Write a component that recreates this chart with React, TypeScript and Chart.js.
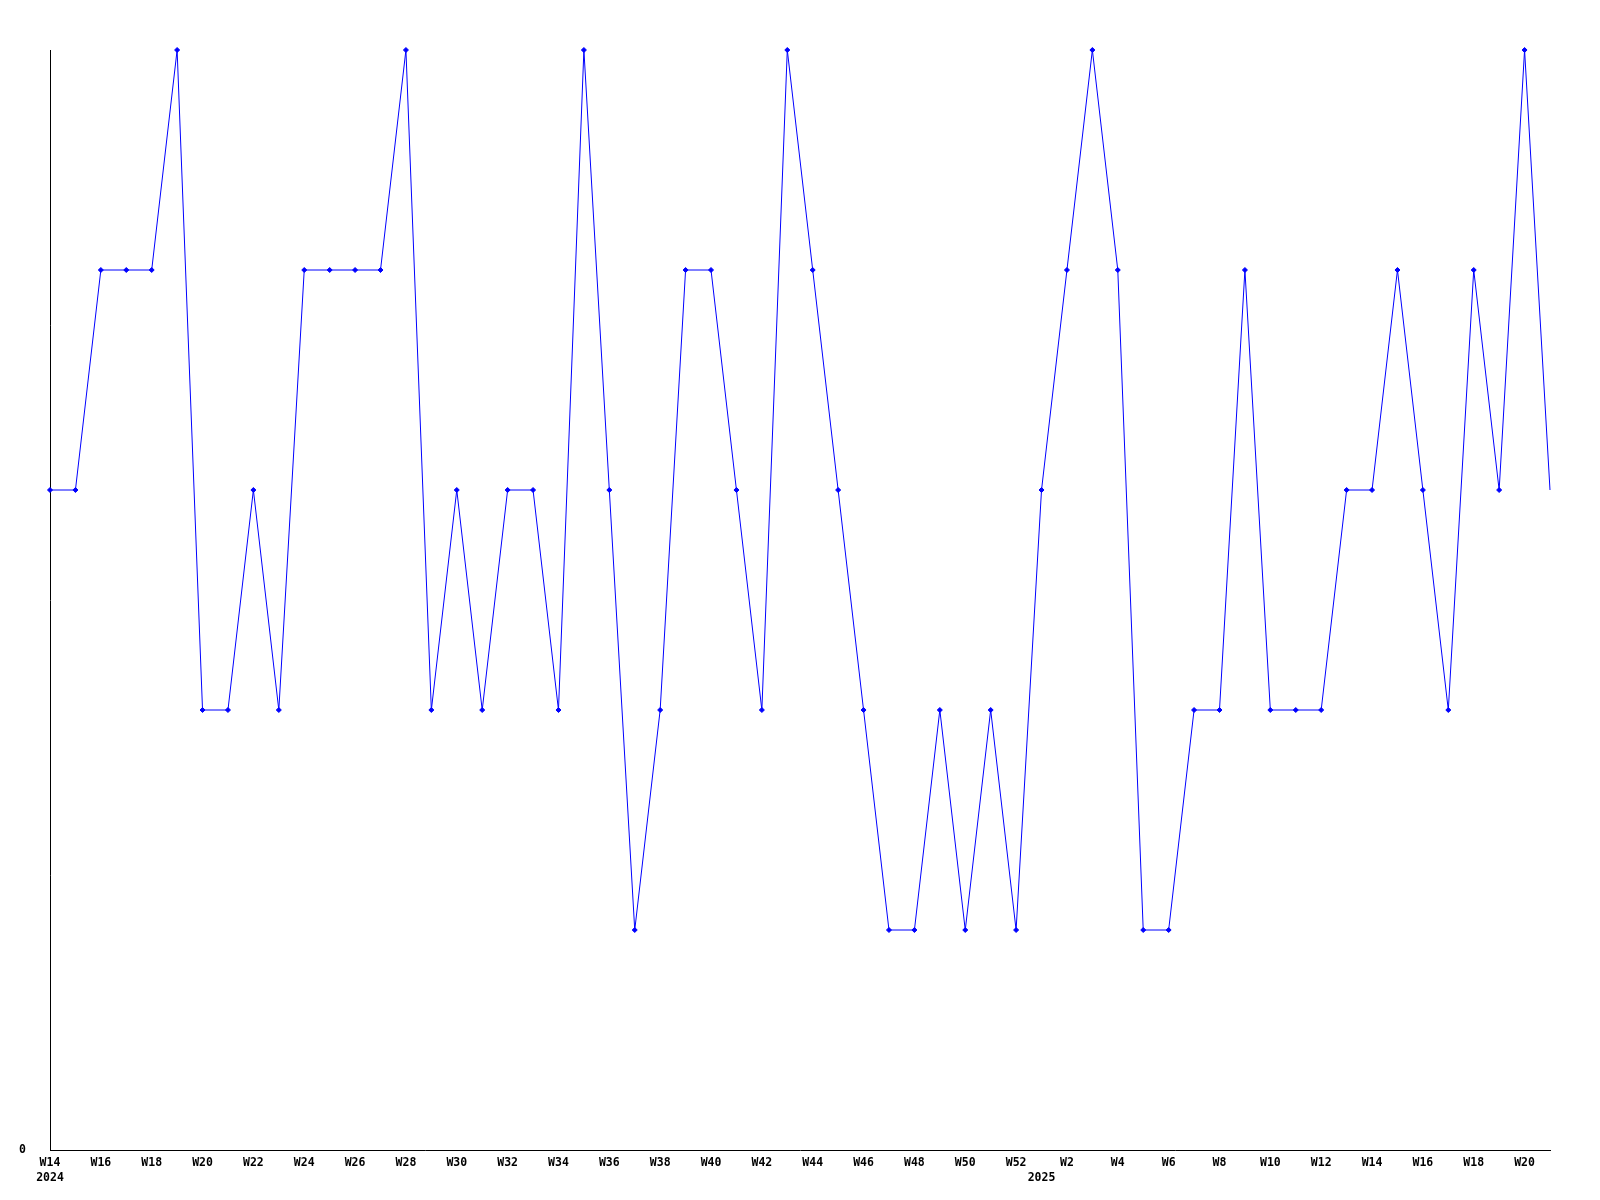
import React, { useEffect, useRef } from "react";
import { Chart, registerables } from "chart.js";

Chart.register(...registerables);

const weeks: string[] = [
  "W14","W15","W16","W17","W18","W19","W20","W21","W22","W23","W24","W25","W26","W27","W28","W29","W30","W31","W32","W33",
  "W34","W35","W36","W37","W38","W39","W40","W41","W42","W43","W44","W45","W46","W47","W48","W49","W50","W51","W52",
  "W1","W2","W3","W4","W5","W6","W7","W8","W9","W10","W11","W12","W13","W14","W15","W16","W17","W18","W19","W20","W21",
];
const years: string[] = [
  "2024","","","","","","","","","","","","","","","","","","","",
  "","","","","","","","","","","","","","","","","","","",
  "2025","","","","","","","","","","","","","","","","","","","",
];
const values: number[] = [
  3,3,4,4,4,5,2,2,3,2,4,4,4,4,5,2,3,2,3,3,
  2,5,3,1,2,4,4,3,2,5,4,3,2,1,1,2,1,2,1,
  3,4,5,4,1,1,2,2,4,2,2,2,3,3,4,3,2,4,3,5,3,
];

const FONT = { family: "'DejaVu Sans Mono', monospace", size: 11.5, weight: "bold" as const, lineHeight: 1.35 };

export default function App() {
  const ref = useRef<HTMLCanvasElement>(null);
  useEffect(() => {
    if (!ref.current) return;
    const radii = values.map((_, i) => (i === values.length - 1 ? 0 : 2.5));
    const chart = new Chart(ref.current, {
      type: "line",
      data: {
        labels: weeks,
        datasets: [
          {
            data: values,
            borderColor: "#0000ff",
            backgroundColor: "#0000ff",
            borderWidth: 1,
            tension: 0,
            pointStyle: "rectRot",
            pointRadius: radii,
            pointBorderWidth: 1,
            clip: false as any,
          },
        ],
      },
      options: {
        animation: false,
        responsive: false,
        maintainAspectRatio: false,
        layout: { padding: { top: 50, right: 50, left: 0, bottom: 0 } },
        plugins: { legend: { display: false }, tooltip: { enabled: false } },
        scales: {
          x: {
            type: "category",
            offset: false,
            grid: { display: false, drawTicks: false },
            border: { display: true, color: "#000", width: 1 },
            ticks: {
              autoSkip: false,
              maxRotation: 0,
              minRotation: 0,
              padding: 5,
              color: "#000",
              font: FONT,
              callback: (_v: any, i: number) => {
                const w = weeks[i];
                const n = parseInt(w.slice(1), 10);
                const wl = n % 2 === 0 ? w : "";
                const y = years[i];
                if (!wl && !y) return "";
                return y ? [wl, y] : wl;
              },
            },
            afterFit: (s: any) => {
              s.height = 50;
            },
          },
          y: {
            min: 0,
            max: 5,
            grid: { display: false, drawTicks: false },
            border: { display: true, color: "#000", width: 1 },
            ticks: {
              stepSize: 1,
              padding: 24,
              color: "#000",
              font: FONT,
              callback: (v: any) => (v === 0 ? "0" : ""),
            },
            afterFit: (s: any) => {
              s.width = 50;
            },
          },
        },
      },
    });
    return () => chart.destroy();
  }, []);
  return (
    <div style={{ position: "fixed", left: 0, top: 0, width: 1600, height: 1200, background: "#fff" }}>
      <canvas ref={ref} width={1600} height={1200} style={{ width: 1600, height: 1200 }} />
    </div>
  );
}
